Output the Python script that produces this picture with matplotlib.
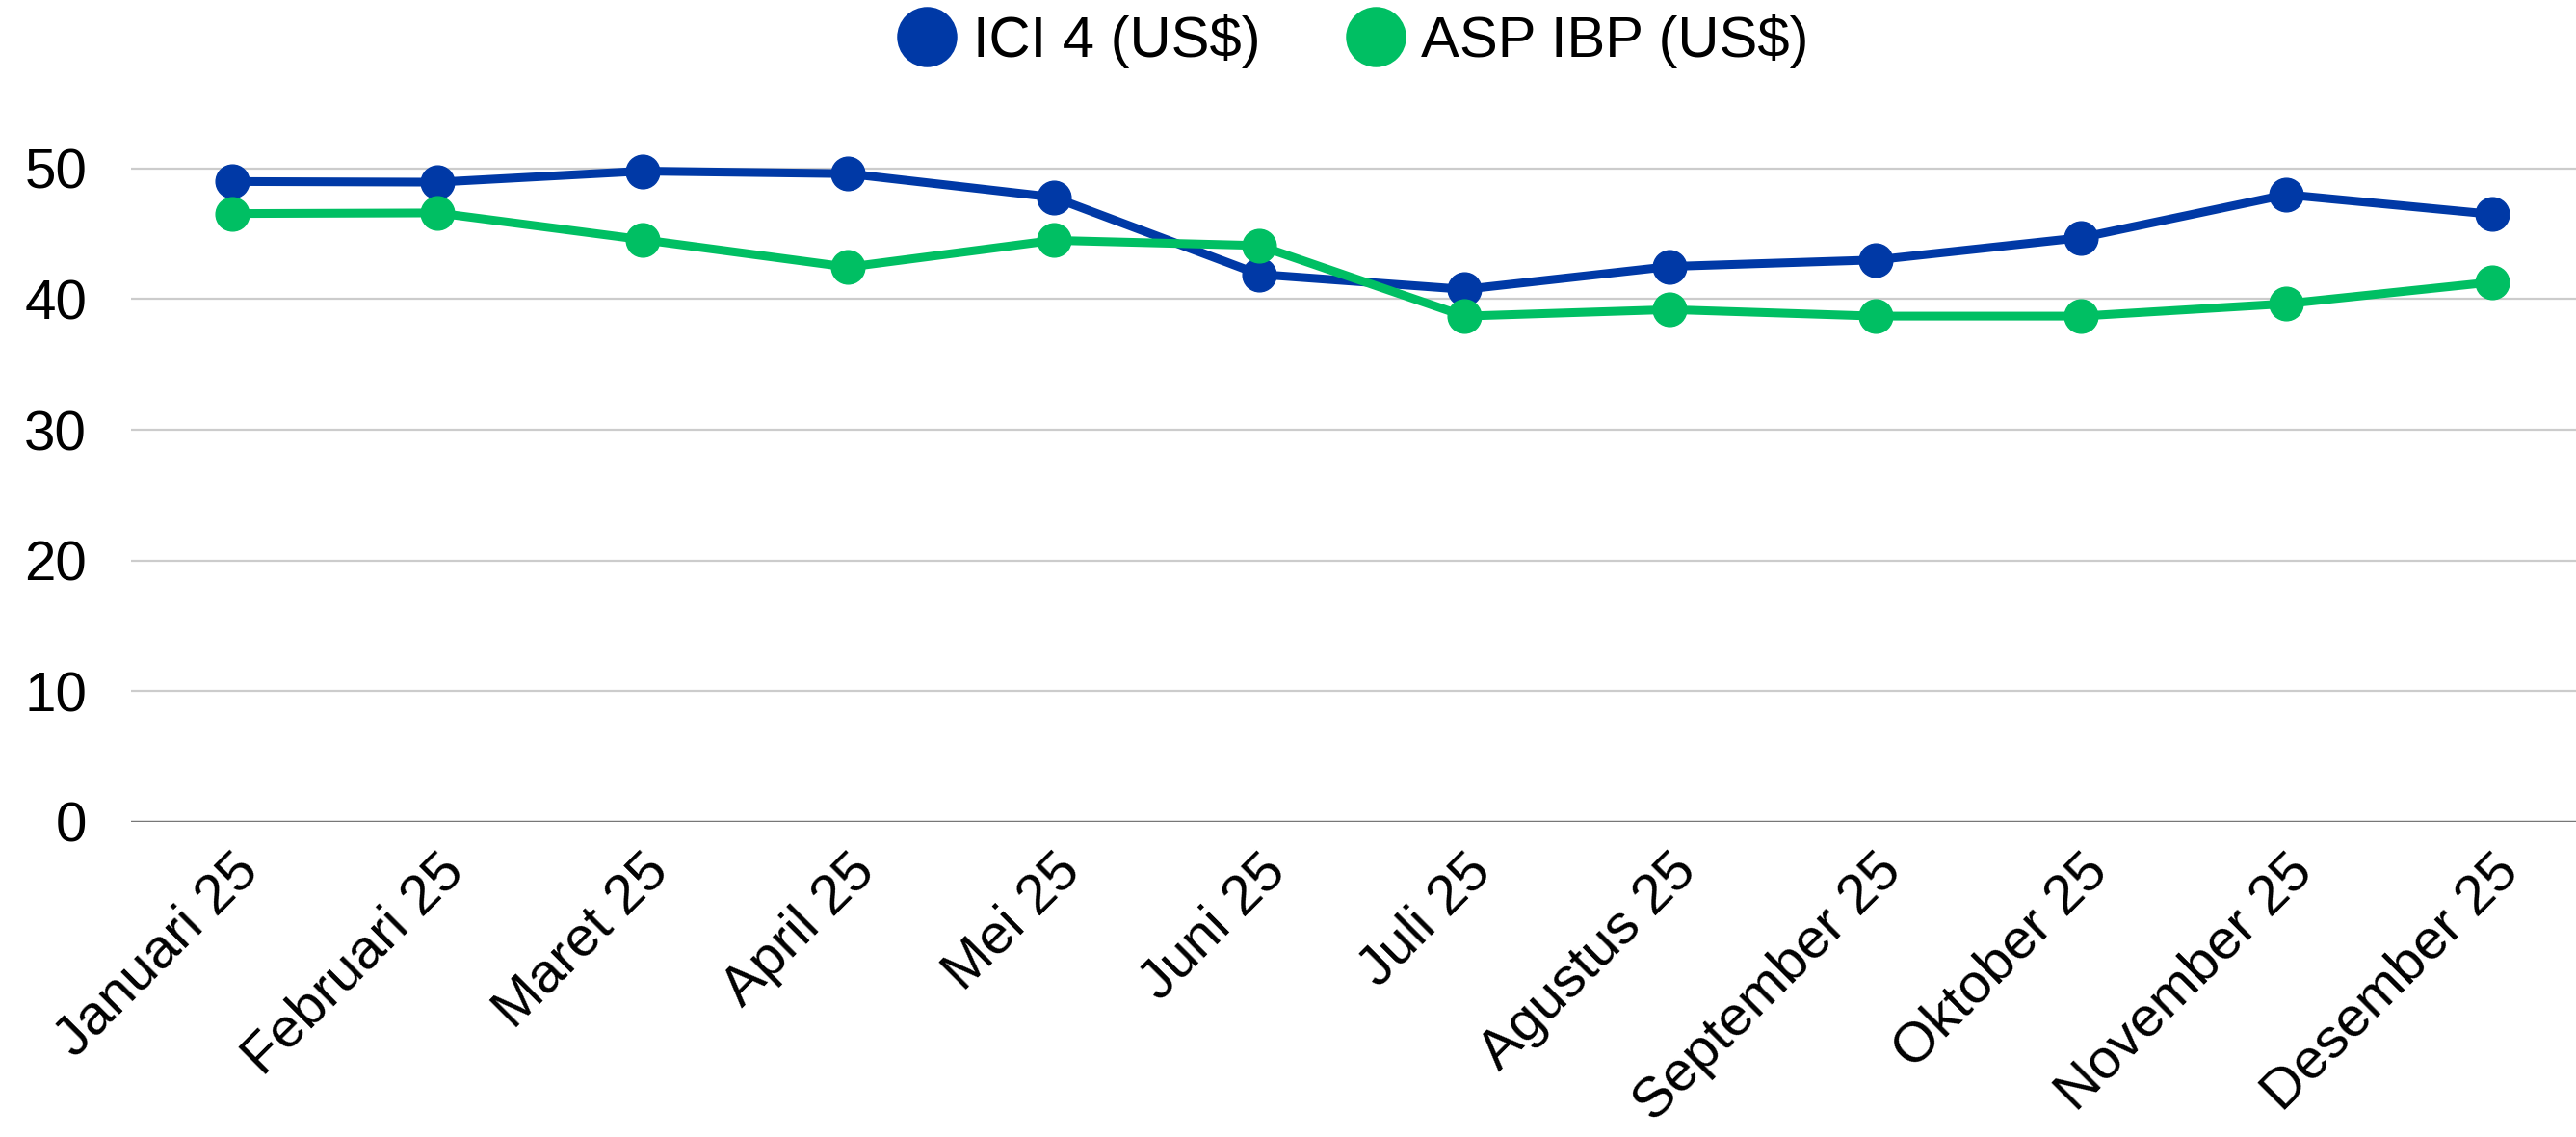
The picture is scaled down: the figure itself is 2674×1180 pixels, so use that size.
import matplotlib
matplotlib.use("Agg")
import matplotlib.pyplot as plt
from matplotlib.lines import Line2D

months = ["Januari 25", "Februari 25", "Maret 25", "April 25", "Mei 25", "Juni 25",
          "Juli 25", "Agustus 25", "September 25", "Oktober 25", "November 25", "Desember 25"]
ici4 = [49.0, 48.95, 49.8, 49.6, 47.8, 41.9, 40.75, 42.5, 43.0, 44.7, 48.0, 46.5]
asp_ibp = [46.55, 46.6, 44.55, 42.45, 44.5, 44.1, 38.7, 39.2, 38.7, 38.7, 39.65, 41.3]
series_names = ["ICI 4 (US$)", "ASP IBP (US$)"]
colors = ["#0039a6", "#00bf63"]
yticks = [0, 10, 20, 30, 40, 50]

plt.rcParams['font.family'] = ['Liberation Sans', 'DejaVu Sans']

W, H = 2674, 1180
fig = plt.figure(figsize=(W / 100, H / 100), dpi=100)
left, right, bottom_px, top_px = 136, 2674, 853, 107
ax = fig.add_axes([left / W, (H - bottom_px) / H, (right - left) / W, (bottom_px - top_px) / H])

x = list(range(len(months)))
for vals, c in zip([ici4, asp_ibp], colors):
    ax.plot(x, vals, color=c, linewidth=6.5, marker='o', markersize=25, zorder=3, clip_on=False)

ax.set_ylim(0, 55)
ax.set_xlim(-0.49, 11.41)
ax.set_yticks(yticks)
ax.set_yticklabels([str(v) for v in yticks], fontsize=42)
ax.set_xticks(x)
ax.set_xticklabels(months, fontsize=42, rotation=45, ha='right', rotation_mode='anchor')
ax.tick_params(axis='both', length=0)
ax.tick_params(axis='y', pad=33)
ax.tick_params(axis='x', pad=17)
for s in ax.spines.values():
    s.set_visible(False)
for v in yticks[1:]:
    ax.axhline(v, color='#cccccc', linewidth=1.6, zorder=1)
ax.axhline(0, color='#777777', linewidth=2.5, zorder=2)

handles = [Line2D([], [], linestyle='none', marker='o', markersize=44, color=c) for c in colors]
fig.legend(handles, series_names, loc='center', bbox_to_anchor=((left + right) / 2 / W, 1 - 43 / H),
           ncol=2, frameon=False, fontsize=43, handletextpad=0.3, columnspacing=1.5,
           handlelength=1.0)

fig.savefig("out.png", dpi=100)
